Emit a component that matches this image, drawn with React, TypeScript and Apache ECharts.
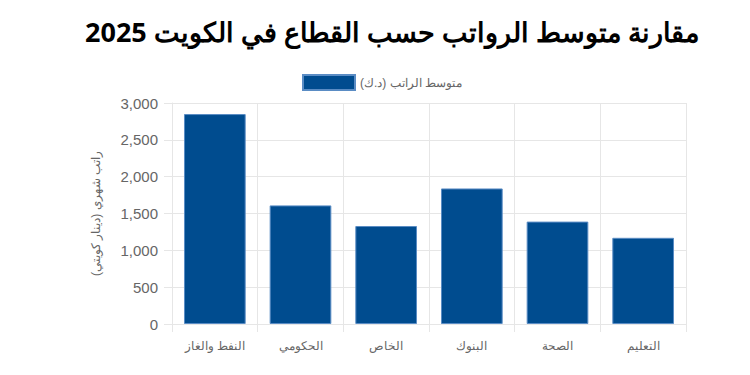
import React, { useEffect, useRef } from "react";
import * as echarts from "echarts";

const categories = ["النفط والغاز", "الحكومي", "الخاص", "البنوك", "الصحة", "التعليم"];
const salaries = [2850, 1610, 1330, 1840, 1390, 1170];
const seriesName = "متوسط الراتب (د.ك)";
const titleText = "مقارنة متوسط الرواتب حسب القطاع في الكويت 2025";
const yAxisTitle = "راتب شهري (دينار كويتي)";

export default function App() {
  const ref = useRef<HTMLDivElement>(null);
  useEffect(() => {
    document.body.style.margin = "0";
    if (!ref.current) return;
    const chart = echarts.init(ref.current, null, { renderer: "svg" });
    const gridColor = "#e6e6e6";
    const labelFont = "'Liberation Sans', Arial, sans-serif";
    chart.setOption({
      animation: false,
      backgroundColor: "#ffffff",
      title: {
        text: titleText,
        left: 85,
        top: 18,
        padding: 0,
        textStyle: { fontFamily: "'Noto Sans', sans-serif", fontSize: 27, fontWeight: "bold", color: "#000" },
      },
      legend: {
        data: [seriesName],
        left: 302,
        top: 74,
        padding: 0,
        itemWidth: 52,
        itemHeight: 15,
        itemGap: 8,
        icon: "rect",
        textStyle: { fontFamily: labelFont, fontSize: 12, color: "#666" },
      },
      grid: { left: 172, right: 64, top: 103, bottom: 51, containLabel: false },
      xAxis: {
        type: "category",
        data: categories,
        axisLine: { show: true, lineStyle: { color: gridColor } },
        axisTick: { show: true, length: 8, lineStyle: { color: gridColor } },
        splitLine: { show: true, lineStyle: { color: gridColor } },
        axisLabel: { margin: 16, fontFamily: labelFont, fontSize: 12, color: "#666" },
      },
      yAxis: {
        type: "value",
        min: 0,
        max: 3000,
        interval: 500,
        name: yAxisTitle,
        nameLocation: "middle",
        nameRotate: 90,
        nameGap: 70,
        nameTextStyle: { fontFamily: labelFont, fontSize: 12, color: "#666" },
        axisLine: { show: true, lineStyle: { color: gridColor } },
        axisTick: { show: true, length: 8, lineStyle: { color: gridColor } },
        splitLine: { show: true, lineStyle: { color: gridColor } },
        axisLabel: {
          margin: 14,
          fontFamily: labelFont,
          fontSize: 15,
          color: "#666",
          formatter: (v: number) => v.toLocaleString("en-US"),
        },
      },
      series: [
        {
          name: seriesName,
          type: "bar",
          data: salaries,
          barWidth: "72%",
          itemStyle: { color: "#004c8f", borderColor: "#5a8cc4", borderWidth: 1 },
        },
      ],
    });
    return () => chart.dispose();
  }, []);
  return <div ref={ref} style={{ width: 750, height: 375 }} />;
}
